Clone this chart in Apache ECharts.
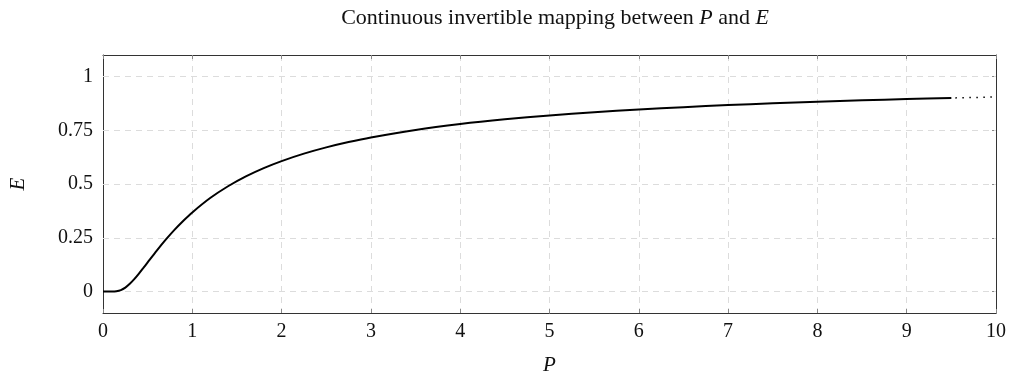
<!DOCTYPE html>
<html>
<head>
<meta charset="utf-8">
<script src="https://cdn.jsdelivr.net/npm/echarts@6/dist/echarts.min.js"></script>
<style>
  html, body { margin: 0; padding: 0; background: #fff; }
  #chart { width: 1012px; height: 383px; }
</style>
</head>
<body>
<div id="chart"></div>
<script>
// Sampled values of E against P (solid part of the curve)
const pValues = [0, 0.1, 0.15, 0.2, 0.25, 0.3, 0.35, 0.4, 0.45, 0.5, 0.6, 0.7, 0.8, 0.9, 1,
  1.2, 1.4, 1.6, 1.8, 2, 2.25, 2.5, 2.75, 3, 3.5, 4, 4.5, 5, 5.5, 6, 6.5, 7, 7.5, 8, 8.5, 9, 9.5];
const eValues = [0, 0.00005, 0.0013, 0.0067, 0.0183, 0.0357, 0.0574, 0.0821, 0.1084, 0.1353,
  0.1889, 0.2397, 0.2865, 0.3292, 0.3679, 0.4346, 0.4895, 0.5353, 0.5738, 0.6065, 0.6412,
  0.6703, 0.6951, 0.7165, 0.7515, 0.7788, 0.8007, 0.8187, 0.8338, 0.8465, 0.8574, 0.8669,
  0.8752, 0.8825, 0.8890, 0.8948, 0.9001];
// Dotted continuation towards P = 10
const pTail = [9.5, 10];
const eTail = [0.9001, 0.9048];

const xTicks = [0, 1, 2, 3, 4, 5, 6, 7, 8, 9, 10];
const yTicks = [0, 0.25, 0.5, 0.75, 1];

const serif = '"Liberation Serif", "DejaVu Serif", serif';
const frameColor = '#333';
const tickColor = '#888';
const gridColor = '#dcdcdc';

const zip = (a, b) => a.map((v, i) => [v, b[i]]);

const chart = echarts.init(document.getElementById('chart'), null, { renderer: 'canvas' });

const labelStyle = { fontFamily: serif, fontSize: 20, color: '#111' };

chart.setOption({
  animation: false,
  backgroundColor: '#fff',
  title: {
    text: 'Continuous invertible mapping between {i|P} and {i|E}',
    left: 550, top: 2, textAlign: 'center',
    textStyle: {
      fontFamily: serif, fontSize: 22, fontWeight: 'normal', color: '#111',
      rich: { i: { fontFamily: serif, fontSize: 22, fontStyle: 'italic', color: '#111' } }
    }
  },
  grid: { left: 101, right: 16, top: 55, bottom: 70, containLabel: false },
  xAxis: [{
    type: 'value', min: 0, max: 10, interval: 1,
    name: 'P', nameLocation: 'middle', nameGap: 42,
    nameTextStyle: { fontFamily: serif, fontSize: 21, fontStyle: 'italic', color: '#111' },
    axisLine: { show: true, onZero: false, lineStyle: { color: frameColor, width: 1 } },
    axisTick: { show: true, inside: true, length: 4, lineStyle: { color: tickColor } },
    axisLabel: Object.assign({ margin: 9, customValues: xTicks }, labelStyle),
    splitLine: { show: true, lineStyle: { color: gridColor, type: [6, 5], width: 1 } }
  }, {
    type: 'value', position: 'top', min: 0, max: 10, interval: 1,
    axisLine: { show: true, onZero: false, lineStyle: { color: frameColor, width: 1 } },
    axisTick: { show: true, inside: true, length: 4, lineStyle: { color: tickColor } },
    axisLabel: { show: false },
    splitLine: { show: false }
  }],
  yAxis: [{
    type: 'value', min: -0.1, max: 1.1,
    name: 'E', nameLocation: 'middle', nameGap: 74, nameRotate: 90,
    nameTextStyle: { fontFamily: serif, fontSize: 21, fontStyle: 'italic', color: '#111' },
    axisLine: { show: true, onZero: false, lineStyle: { color: frameColor, width: 1 } },
    axisTick: { show: true, inside: true, length: 4, customValues: yTicks, lineStyle: { color: tickColor } },
    axisLabel: Object.assign({ margin: 10, customValues: yTicks }, labelStyle),
    splitLine: { show: false }
  }, {
    type: 'value', position: 'right', min: -0.1, max: 1.1,
    axisLine: { show: true, onZero: false, lineStyle: { color: frameColor, width: 1 } },
    axisTick: { show: true, inside: true, length: 4, customValues: yTicks, lineStyle: { color: tickColor } },
    axisLabel: { show: false },
    splitLine: { show: false }
  }],
  series: [{
    // horizontal dashed grid lines at the labelled E values
    type: 'line', data: [], silent: true,
    markLine: {
      silent: true, symbol: 'none', label: { show: false },
      lineStyle: { color: gridColor, type: [6, 5], width: 1 },
      data: yTicks.map(v => ({ yAxis: v }))
    }
  }, {
    type: 'line', data: zip(pValues, eValues),
    showSymbol: false, smooth: 0.25,
    lineStyle: { color: '#000', width: 2 }, z: 5
  }, {
    type: 'line', data: zip(pTail, eTail),
    showSymbol: false,
    lineStyle: { color: '#000', width: 1.5, type: [1.5, 5.5], dashOffset: -4 }, z: 5
  }]
});
</script>
</body>
</html>
